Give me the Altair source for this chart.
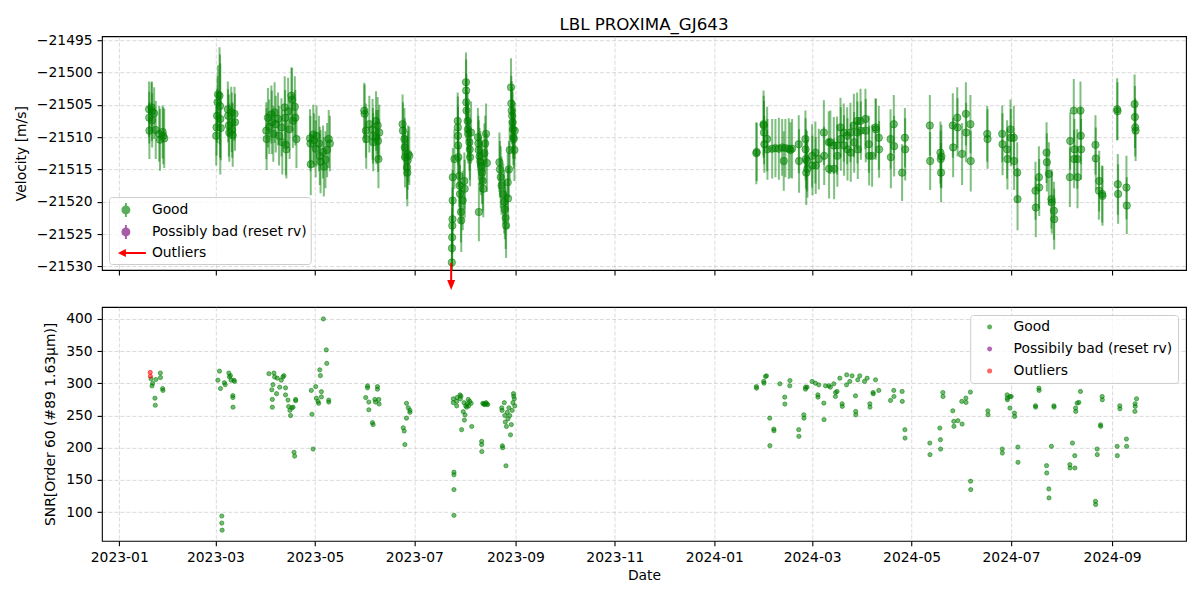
import altair as alt
import pandas as pd
from datetime import datetime, timedelta

# ---------------- data ----------------
# top panel: days since 2023-01-01, RV [m/s], error [m/s]
rv_day = [
    18.3, 18.4, 18.5, 19.8, 20.0, 20.2, 21.4, 22.4, 24.5, 25.0, 26.6, 27.0, 27.6,
    59.5, 59.7, 60.0, 60.3, 60.6, 61.5, 61.8, 62.0, 62.3, 66.6, 66.8, 67.2, 67.5, 68.7, 69.0, 69.3, 69.6, 70.7, 71.0,
    90.2, 90.4, 91.2, 92.0, 93.3, 93.6, 94.5, 95.3, 96.0, 97.4, 98.0, 99.5, 100.0, 101.5, 101.8, 102.2, 102.5, 103.6, 104.5, 105.6, 106.0, 106.5, 107.7, 108.0, 108.7,
    117.0, 117.3, 117.5, 119.0, 119.5, 120.5, 121.0, 122.5, 123.0, 123.5, 125.0, 125.5, 126.5, 127.5, 128.5, 129.2,
    150.3, 150.5, 151.3, 151.5, 153.4, 155.4, 155.6, 155.8, 157.5, 157.7, 158.5, 158.7, 159.0, 159.5,
    173.8, 174.0, 174.9, 175.1, 175.3, 176.5, 176.7, 176.9, 177.2, 177.9,
    204.0, 204.1, 204.2, 204.3, 204.4, 204.5, 204.6, 205.6, 207.6, 207.7, 207.8, 207.9, 208.0, 208.6, 208.8, 209.0,
    209.6, 209.8, 210.7, 211.7, 211.9, 212.7, 212.8, 212.9, 213.0, 213.7, 213.8, 214.0, 214.8, 215.0, 215.2, 215.8,
    220.0, 220.3, 220.5, 221.0, 221.5, 222.0, 222.5, 223.0, 223.3, 220.6, 224.0, 224.5, 225.0, 225.5,
    233.2, 233.5, 234.0, 234.5, 235.5, 236.2, 236.5, 237.0, 237.3, 238.3, 238.5, 239.0, 239.5, 240.3, 240.5, 240.7,
    241.0, 241.3, 241.5, 241.8, 242.0, 242.4, 242.6,
]
rv_val = [
    -21505.7, -21507.0, -21509.0, -21505.4, -21506.0, -21507.4, -21506.3, -21508.9, -21509.5, -21510.4, -21509.2, -21509.8, -21510.2,
    -21509.8, -21508.5, -21506.7, -21504.6, -21503.4, -21503.6, -21505.2, -21507.2, -21508.6, -21505.7, -21506.7, -21508.2, -21509.3, -21506.2, -21507.7, -21508.9, -21509.7, -21506.4, -21507.7,
    -21509.0, -21510.3, -21507.0, -21508.4, -21506.5, -21507.7, -21509.5, -21506.2, -21508.0, -21507.2, -21509.8, -21508.5, -21510.8, -21505.4, -21507.0, -21511.2, -21511.9, -21506.0, -21508.8, -21503.6, -21504.2, -21507.5, -21505.3, -21507.0, -21510.3,
    -21510.2, -21511.0, -21514.2, -21509.6, -21510.5, -21511.8, -21509.8, -21511.0, -21512.9, -21513.8, -21512.3, -21514.6, -21513.5, -21512.0, -21510.3, -21511.0,
    -21505.9, -21506.4, -21509.0, -21510.3, -21508.0, -21508.8, -21509.8, -21510.8, -21507.5, -21510.0, -21508.2, -21510.6, -21513.4, -21509.3,
    -21508.0, -21509.0, -21510.3, -21511.6, -21513.1, -21514.7, -21515.5, -21513.6, -21512.6, -21512.9,
    -21529.4, -21527.2, -21525.5, -21523.7, -21522.7, -21519.8, -21516.2, -21513.4, -21507.5, -21508.5, -21509.8, -21511.3, -21513.1, -21516.0, -21517.5, -21518.8,
    -21521.6, -21522.9, -21519.8, -21516.8, -21518.0, -21501.5, -21502.8, -21504.6, -21505.9, -21507.5, -21508.8, -21509.5, -21510.8, -21511.9, -21513.1, -21509.3,
    -21510.0, -21511.0, -21512.0, -21513.0, -21513.8, -21514.5, -21515.5, -21516.8, -21518.0, -21521.6, -21512.5, -21511.0, -21509.5, -21514.0,
    -21513.9, -21515.0, -21516.2, -21517.5, -21518.8, -21520.0, -21521.2, -21522.5, -21523.7, -21517.0, -21519.5, -21515.0, -21512.0, -21502.3, -21504.8, -21505.9,
    -21506.7, -21507.7, -21508.8, -21510.0, -21510.3, -21512.0, -21509.0,
]
rv_err = [
    4.3, 4.0, 4.4, 3.9, 4.6, 4.2, 4.0, 4.5, 4.3, 4.8, 4.1, 4.4, 4.6,
    4.6, 4.4, 4.2, 4.0, 4.5, 7.5, 8.0, 8.6, 5.0, 4.3, 4.1, 4.8, 4.5, 4.0, 4.6, 4.3, 4.9, 4.2, 4.4,
    4.4, 4.8, 4.6, 4.2, 4.5, 4.9, 4.3, 4.7, 4.4, 4.1, 4.6, 4.5, 5.0, 4.8, 4.3, 4.7, 4.5, 5.2, 4.6, 4.4, 4.9, 4.2, 4.7, 4.3, 4.5,
    4.5, 4.3, 4.8, 4.6, 4.2, 4.4, 4.7, 4.3, 4.5, 4.9, 4.1, 4.6, 4.4, 4.2, 4.5, 4.3,
    4.3, 4.5, 4.2, 4.6, 4.4, 4.7, 4.3, 4.5, 4.6, 4.2, 4.4, 4.8, 4.5, 4.3,
    4.6, 4.4, 4.8, 4.5, 4.7, 4.9, 5.2, 4.6, 4.4, 4.5,
    4.5, 4.8, 4.6, 4.4, 4.9, 4.7, 4.5, 4.6, 4.4, 4.8, 4.5, 4.3, 4.6, 4.8, 4.4, 4.5,
    4.7, 4.9, 4.6, 4.4, 4.5, 4.6, 4.8, 4.4, 4.7, 4.5, 4.3, 4.6, 4.4, 4.7, 4.5, 4.8,
    4.5, 4.3, 4.6, 4.4, 4.7, 4.5, 4.8, 4.6, 4.4, 4.5, 4.6, 4.3, 4.7, 4.5,
    4.6, 4.4, 4.8, 4.5, 4.7, 4.9, 4.6, 4.8, 5.0, 4.5, 4.7, 4.4, 4.6, 4.5, 4.3, 4.6,
    4.4, 4.7, 4.5, 4.3, 4.6, 4.8, 4.4,
]
rv_day_2024 = [
    390.8, 391.0, 395.2, 395.3, 395.5, 395.7, 397.4, 397.6, 400.5, 402.5,
    404.6, 406.6, 407.6, 408.6, 410.7, 411.7, 412.7, 416.8, 417.0, 420.9,
    421.0, 421.2, 421.4, 421.9, 422.1, 425.0, 425.2, 427.0, 427.2, 429.1,
    432.2, 432.4, 435.2, 435.4, 436.2, 438.3, 438.5, 440.3, 440.5, 442.4,
    442.6, 444.4, 444.6, 446.5, 446.7, 448.5, 448.7, 450.6, 450.8, 452.6,
    452.8, 453.0, 454.7, 454.9, 457.7, 457.9, 459.8, 460.0, 461.8, 463.9,
    464.1, 465.9, 466.1, 473.1, 473.3, 475.1, 475.3, 480.2, 481.9, 482.1,
    497.2, 497.4, 503.7, 503.9, 504.1, 504.3, 511.3, 511.5, 514.0, 514.2,
    517.0, 519.3, 519.5, 522.1, 522.3, 532.4, 532.6, 541.6, 541.8, 544.6,
    544.8, 546.7, 546.9, 548.7, 548.9, 550.8, 551.0, 562.0, 562.2, 564.1,
    564.3, 568.8, 569.0, 570.2, 571.8, 572.0, 573.3, 573.5, 583.1, 583.3,
    585.5, 585.7, 585.9, 587.6, 587.8, 589.6, 589.8, 590.0, 598.8, 599.0,
    600.9, 601.1, 602.9, 603.1, 612.1, 612.3, 612.5, 612.7, 617.8, 618.0,
    622.8, 623.0, 623.2, 623.4,
]
rv_val_2024 = [
    -21512.5, -21512.3, -21508.0, -21508.2, -21509.3, -21511.1, -21510.3, -21511.9, -21511.8, -21511.7,
    -21511.8, -21511.6, -21513.7, -21511.7, -21511.8, -21512.0, -21511.8, -21511.1, -21513.7, -21510.3,
    -21511.9, -21513.4, -21515.5, -21513.7, -21514.9, -21512.9, -21514.4, -21512.4, -21514.4, -21513.4,
    -21509.3, -21512.9, -21510.8, -21514.9, -21510.8, -21511.3, -21514.9, -21511.3, -21512.9, -21508.5,
    -21510.3, -21509.3, -21511.3, -21509.8, -21511.9, -21509.3, -21512.4, -21508.2, -21510.8, -21507.5,
    -21509.3, -21511.9, -21507.5, -21509.0, -21507.2, -21509.0, -21511.1, -21512.9, -21512.9, -21508.5,
    -21508.8, -21510.1, -21511.9, -21510.3, -21513.1, -21508.0, -21511.4, -21515.5, -21510.1, -21511.9,
    -21508.2, -21513.7, -21512.4, -21513.4, -21515.5, -21513.0, -21508.2, -21511.6, -21507.0, -21508.5,
    -21512.6, -21506.4, -21509.3, -21508.0, -21513.7, -21509.5, -21510.3, -21509.5, -21511.1, -21511.9,
    -21513.4, -21508.8, -21510.1, -21510.1, -21513.7, -21515.5, -21519.6, -21518.3, -21520.9, -21516.2,
    -21517.8, -21512.4, -21513.9, -21515.7, -21519.6, -21520.1, -21521.4, -21522.7, -21516.2, -21510.6,
    -21505.9, -21513.4, -21511.9, -21513.4, -21516.2, -21505.9, -21509.8, -21511.9, -21511.2, -21513.3,
    -21518.3, -21516.8, -21518.8, -21519.1, -21505.7, -21506.0, -21517.3, -21518.8, -21517.8, -21520.6,
    -21504.9, -21506.9, -21508.5, -21509.0,
]
rv_err_2024 = [
    4.8, 4.5, 5.2, 4.6, 4.9, 4.4, 5.0, 4.7, 4.6, 4.5,
    4.8, 4.4, 4.6, 4.5, 4.7, 4.3, 4.6, 4.5, 4.9, 4.4,
    4.8, 4.6, 5.0, 4.7, 4.5, 4.9, 4.6, 4.8, 4.4, 4.7,
    5.0, 4.5, 4.8, 4.6, 4.9, 4.4, 4.7, 4.5, 4.8, 4.6,
    4.9, 4.5, 4.7, 4.4, 4.8, 4.6, 4.5, 4.9, 4.7, 4.4,
    4.8, 4.6, 5.0, 4.5, 4.7, 4.9, 4.4, 4.6, 4.8, 4.5,
    4.7, 4.9, 4.4, 4.6, 4.8, 4.5, 4.7, 4.4, 4.6, 4.8,
    4.7, 4.5, 4.8, 4.4, 4.6, 4.9, 5.0, 4.6, 4.7, 4.5,
    4.8, 4.9, 4.6, 4.5, 4.7, 4.3, 4.6, 4.4, 4.8, 4.5,
    4.7, 4.6, 4.4, 4.9, 4.5, 4.7, 4.8, 4.5, 4.6, 4.8,
    4.4, 4.7, 4.5, 4.9, 4.6, 4.8, 4.5, 4.7, 4.6, 4.4,
    4.9, 4.5, 4.7, 4.6, 4.8, 4.5, 4.4, 4.7, 4.6, 4.8,
    4.5, 4.7, 4.4, 4.6, 4.8, 4.5, 4.7, 4.6, 4.9, 4.4,
    4.6, 4.8, 4.5, 4.7,
]
outlier_rv_day = [203.6]

# bottom panel: days since 2023-01-01, SNR
snr_day = [
    19.5, 20.1, 20.5, 21.9, 22.1, 22.5, 25.2, 25.3, 26.6, 26.8,
    60.5, 61.5, 62.1, 62.9, 62.9, 63.1, 64.5, 65.0, 67.2, 67.6, 68.2, 68.6, 69.7, 69.7, 69.8, 70.3, 70.7,
    91.8, 93.6, 93.9, 93.9, 94.3, 94.9, 95.3, 96.5, 96.9, 98.4, 99.4, 100.4, 101.0, 102.0, 102.0, 103.5, 103.9, 104.7, 105.1, 105.9, 106.6, 107.2, 107.6, 108.2, 108.2,
    117.8, 118.2, 118.9, 120.5, 120.9, 121.9, 122.3, 123.0, 123.4, 124.0, 124.0, 125.2, 127.0, 127.3, 128.5, 128.5,
    151.2, 152.3, 152.3, 153.1, 153.1, 155.3, 155.7, 156.8, 157.2, 158.4, 158.4, 159.2, 159.4,
    174.2, 174.8, 175.2, 176.2, 176.2, 177.3, 178.3, 178.3,
    204.9, 204.9, 205.3, 205.3, 205.3, 205.3, 207.0, 207.0, 207.2, 209.0, 209.2, 209.6, 210.0, 211.0, 211.5, 211.7, 212.1, 212.5, 213.1, 213.5, 214.1, 214.3, 215.0, 215.8, 216.2,
    222.3, 222.3, 222.4, 223.0, 223.5, 224.0, 224.5, 225.0, 225.5, 226.0,
    234.6, 234.8, 235.0, 235.2, 236.2, 236.5, 236.8, 237.2, 237.5, 238.0, 238.5, 239.0, 239.5, 240.0, 240.5, 241.0, 241.5, 241.8, 242.0, 242.3, 242.6,
]
snr_val = [
    307, 296, 300, 277, 266, 306, 316, 309, 292, 289,
    305, 319, 292, 94, 83, 72, 301, 298, 316, 310, 312, 305, 281, 278, 263, 305, 303,
    315, 290, 275, 263, 298, 316, 310, 284, 308, 294, 305, 310, 312, 293, 282, 274, 264, 258, 250, 262, 263, 193, 187, 275, 273,
    289, 252, 198, 295, 277, 272, 269, 321, 312, 287, 279, 400, 352, 331, 274, 271,
    278, 296, 293, 271, 259, 239, 236, 275, 271, 295, 291, 275, 268,
    231, 226, 205, 269, 246, 262, 258, 255,
    276, 270, 162, 158, 135, 95, 272, 265, 278, 282, 276, 280, 228, 256, 270, 243, 251, 265, 263, 268, 275, 265, 272, 269, 233,
    210, 205, 194, 269, 268, 267, 268, 270, 268, 267,
    262, 258, 203, 200, 270, 250, 240, 172, 233, 255, 245, 262, 250, 220, 236, 258, 270, 284, 280, 276, 265,
]
snr_day_2024 = [
    390.8, 390.9, 395.3, 395.5, 396.4, 397.0, 399.0, 399.1, 401.5, 401.6,
    405.2, 408.2, 408.3, 411.3, 411.4, 416.8, 416.9, 419.9, 420.0, 420.9,
    421.0, 421.9, 425.0, 427.0, 428.5, 428.6, 429.1, 432.2, 432.3, 433.2,
    435.2, 436.2, 438.3, 439.3, 439.4, 440.3, 442.0, 443.4, 443.5, 446.1,
    446.2, 448.1, 449.5, 451.6, 451.7, 451.8, 453.0, 454.2, 457.1, 458.7,
    460.4, 460.5, 462.4, 462.5, 463.9, 465.9, 473.1, 475.1, 475.2, 480.2,
    480.3, 481.9, 482.0,
    497.2, 497.3, 503.3, 503.7, 503.8, 505.2, 505.3, 511.3, 511.9, 512.0,
    514.4, 516.8, 517.0, 519.3, 519.4, 522.1, 522.2, 522.3, 532.8, 532.9,
    541.6, 541.7, 544.6, 544.7, 544.8, 546.3, 546.4, 547.1, 549.1, 549.2,
    551.2, 551.3, 562.0, 562.1, 564.1, 564.2, 568.8, 568.9, 570.2, 570.3,
    571.8, 573.3, 573.4, 583.1, 583.2, 584.7, 586.1, 586.2, 586.6, 586.7,
    587.6, 588.6, 589.6, 598.8, 598.9, 599.8, 599.9, 601.9, 602.0, 602.9,
    603.0, 612.1, 612.2, 613.7, 613.8, 617.8, 617.9, 623.0, 623.1, 623.2,
    624.0,
]
snr_val_2024 = [
    295.0, 292.6, 302.9, 300.3, 310.6, 311.7, 246.0, 203.2, 229.0, 226.4,
    299.3, 278.6, 267.8, 296.2, 304.4, 228.0, 217.7, 251.2, 246.0, 291.0,
    294.1, 294.1, 302.9, 300.3, 282.2, 278.6, 297.7, 269.3, 243.6, 296.2,
    296.2, 294.1, 299.3, 279.6, 285.8, 287.4, 308.0, 268.3, 264.2, 297.7,
    313.2, 302.9, 311.7, 280.7, 256.4, 251.2, 305.5, 311.7, 302.9, 308.0,
    268.3, 263.1, 285.8, 283.8, 305.5, 289.0, 273.5, 289.0, 279.6, 287.4,
    272.0, 228.0, 215.0,
    207.3, 189.3, 230.6, 212.5, 198.0, 285.8, 279.6, 257.4, 241.0, 233.2,
    242.0, 272.0, 236.8, 277.1, 270.4, 286.4, 148.0, 135.0, 257.4, 251.2,
    198.0, 191.8, 282.2, 277.1, 274.5, 261.6, 279.6, 279.6, 253.9, 248.7,
    201.1, 177.4, 265.2, 263.1, 292.6, 289.0, 172.2, 160.8, 136.0, 122.1,
    202.2, 265.2, 263.1, 173.8, 168.6, 207.3, 187.7, 168.6, 261.6, 256.4,
    269.3, 270.4, 287.4, 116.9, 111.8, 198.0, 189.3, 235.7, 233.2, 279.6,
    274.5, 202.2, 187.7, 265.2, 260.5, 213.5, 202.2, 256.4, 268.3, 264.2,
    276.0,
]
snr_out_day = [19.0, 19.1]
snr_out_val = [317, 311]

legend_top = ["Good", "Possibly bad (reset rv)", "Outliers"]
legend_bottom = ["Good", "Possibily bad (reset rv)", "Outliers"]
tick_months = [(2023, 1), (2023, 3), (2023, 5), (2023, 7), (2023, 9), (2023, 11),
               (2024, 1), (2024, 3), (2024, 5), (2024, 7), (2024, 9)]
rv_ticks = [-21530, -21525, -21520, -21515, -21510, -21505, -21500, -21495]
snr_ticks = [100, 150, 200, 250, 300, 350, 400]

assert len(rv_day) == len(rv_val) == len(rv_err)
assert len(rv_day_2024) == len(rv_val_2024) == len(rv_err_2024)
assert len(snr_day) == len(snr_val)
assert len(snr_day_2024) == len(snr_val_2024)

# ---------------- helpers ----------------
BASE = datetime(2023, 1, 1)


def to_date(d):
    return (BASE + timedelta(days=d)).strftime("%Y-%m-%dT%H:%M:%S")


FONT = "DejaVu Sans"
GREEN = "#008000"
FS = 13.9

all_rv_day = rv_day + rv_day_2024
all_rv_val = rv_val + rv_val_2024
all_rv_err = rv_err + rv_err_2024
rv_df = pd.DataFrame({
    "date": [to_date(d) for d in all_rv_day],
    "rv": all_rv_val,
    "lo": [v - e for v, e in zip(all_rv_val, all_rv_err)],
    "hi": [v + e for v, e in zip(all_rv_val, all_rv_err)],
})
arrow_df = pd.DataFrame({"date": [to_date(d) for d in outlier_rv_day]})
snr_df = pd.DataFrame({
    "date": [to_date(d) for d in snr_day + snr_day_2024],
    "snr": snr_val + snr_val_2024,
})
snr_out_df = pd.DataFrame({"date": [to_date(d) for d in snr_out_day], "snr": snr_out_val})
leg_top_df = pd.DataFrame({"status": legend_top})
leg_bot_df = pd.DataFrame({"status": legend_bottom})

tick_dt = [alt.DateTime(year=y, month=m, date=1) for y, m in tick_months]
x_scale = alt.Scale(domain=[alt.DateTime(year=2022, month=12, date=21, hours=9),
                            alt.DateTime(year=2024, month=10, date=16, hours=8)])

X_top = alt.X("date:T", scale=x_scale,
              axis=alt.Axis(values=tick_dt, labels=False, title=None, labelFlush=False))
X_bot = alt.X("date:T", scale=x_scale,
              axis=alt.Axis(values=tick_dt, format="%Y-%m", title="Date",
                            labelFlush=False, titlePadding=4))

y_top_scale = alt.Scale(domain=[-21530.57, -21494.39], nice=False, zero=False)
y_top_axis = alt.Axis(values=rv_ticks, format="d", title="Velocity [m/s]", titlePadding=8)
y_bot_scale = alt.Scale(domain=[55.5, 418.6], nice=False, zero=False)
y_bot_axis = alt.Axis(values=snr_ticks, format="d",
                      title="SNR[Order 60 (#89 1.63μm)]", titlePadding=8)

W, H = 1085, 234

# ---------------- top panel ----------------
errbars = alt.Chart(rv_df).mark_rule(color=GREEN, strokeWidth=2, opacity=0.5, clip=True).encode(
    x=X_top,
    y=alt.Y("lo:Q", scale=y_top_scale, axis=y_top_axis),
    y2="hi:Q",
)
rv_pts = alt.Chart(rv_df).mark_point(
    filled=True, fill=GREEN, stroke=GREEN, strokeWidth=1,
    fillOpacity=0.5, strokeOpacity=0.5, size=55,
).encode(x=X_top, y=alt.Y("rv:Q", scale=y_top_scale, axis=y_top_axis))

arrow_shaft = alt.Chart(arrow_df).mark_rule(color="red", strokeWidth=2).encode(
    x=X_top, y=alt.value(227), y2=alt.value(245))
arrow_head = alt.Chart(arrow_df).mark_point(
    shape="M-1,-1L1,-1L0,1.5Z", filled=True, color="red", opacity=1, size=64
).encode(x=X_top, y=alt.value(248))

path_good = ("M-0.12,-0.875L0.12,-0.875L0.12,0.875L-0.12,0.875Z "
             "M-0.56,0A0.56,0.56 0 1 1 0.56,0A0.56,0.56 0 1 1 -0.56,0Z")
path_arrow = "M-1,0L0,-0.5L0,-0.13L2.5,-0.13L2.5,0.13L0,0.13L0,0.5Z"
leg_top = alt.Legend(title=None, orient="bottom-left", offset=6.5, padding=4,
                     symbolSize=256, symbolOffset=4, labelOffset=17, rowPadding=2,
                     symbolOpacity=1, fillColor="rgba(255,255,255,0.8)",
                     strokeColor="#cccccc", cornerRadius=3)
legend_top_layer = alt.Chart(leg_top_df).mark_point(filled=True, opacity=0).encode(
    color=alt.Color("status:N", scale=alt.Scale(domain=legend_top,
                                                range=["#5aad5a", "#a65ca6", "#ff0000"]),
                    legend=leg_top),
    shape=alt.Shape("status:N", scale=alt.Scale(domain=legend_top,
                                                range=[path_good, path_good, path_arrow]),
                    legend=leg_top),
)

top = alt.layer(errbars, rv_pts, arrow_shaft, arrow_head, legend_top_layer).properties(
    width=W, height=H,
    title=alt.TitleParams("LBL PROXIMA_GJ643", font=FONT, fontSize=16.7,
                          fontWeight="normal", color="black", anchor="middle",
                          frame="group", offset=-1),
)

# ---------------- bottom panel ----------------
snr_good = alt.Chart(snr_df).mark_point(
    filled=True, fill=GREEN, stroke=GREEN, strokeWidth=1,
    fillOpacity=0.55, strokeOpacity=0.55, size=18,
).encode(x=X_bot, y=alt.Y("snr:Q", scale=y_bot_scale, axis=y_bot_axis))
snr_out = alt.Chart(snr_out_df).mark_point(
    filled=True, fill="red", stroke="red", strokeWidth=1,
    fillOpacity=0.55, strokeOpacity=0.55, size=18,
).encode(x=X_bot, y=alt.Y("snr:Q", scale=y_bot_scale, axis=y_bot_axis))
leg_bot = alt.Legend(title=None, orient="top-right", offset=8, padding=5,
                     symbolSize=25, symbolOffset=7.5, labelOffset=17, rowPadding=7,
                     symbolOpacity=1, fillColor="rgba(255,255,255,0.8)",
                     strokeColor="#cccccc", cornerRadius=3)
legend_bot_layer = alt.Chart(leg_bot_df).mark_point(filled=True, opacity=0).encode(
    color=alt.Color("status:N", scale=alt.Scale(domain=legend_bottom,
                                                range=["#5fb35f", "#b366b3", "#ff6666"]),
                    legend=leg_bot),
)
bottom = alt.layer(snr_good, snr_out, legend_bot_layer).properties(width=W, height=H)

chart = alt.vconcat(top, bottom, spacing=15).resolve_scale(
    x="independent", y="independent", color="independent", shape="independent"
).properties(
    padding={"top": 8, "left": 5, "right": 5, "bottom": 5}
).configure_view(
    fill="#fdfde3", stroke="black", strokeWidth=1.1
).configure_axis(
    labelFont=FONT, titleFont=FONT, labelFontSize=FS, titleFontSize=FS,
    titleFontWeight="normal", labelColor="black", titleColor="black",
    tickColor="black", tickSize=4.9, tickWidth=1.1, labelPadding=4.9,
    domain=False, grid=True, gridColor="#b0b0b0", gridOpacity=0.6,
    gridDash=[4, 2], gridWidth=0.8,
).configure_legend(
    labelFont=FONT, labelFontSize=FS, labelColor="black",
)

chart.save("out.html", embed_options={"renderer": "svg", "actions": False})
